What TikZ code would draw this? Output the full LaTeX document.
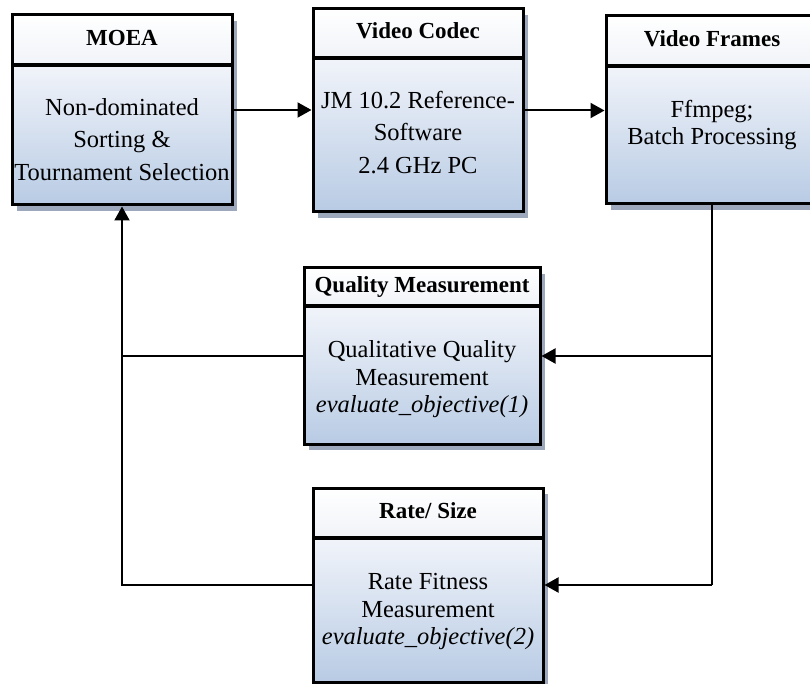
\documentclass[tikz,border=0pt]{standalone}
\usepackage{fontspec}
\setmainfont{Liberation Serif}
\usetikzlibrary{arrows.meta}

\definecolor{bodytop}{RGB}{241,244,250}
\definecolor{bodybot}{RGB}{184,203,228}
\definecolor{headbot}{RGB}{240,243,248}
\definecolor{shadowc}{RGB}{158,168,188}

\tikzset{
  boxframe/.style={draw=black, line width=3pt, inner sep=0pt},
  divider/.style={line width=3.5pt, black},
  bodyshade/.style={top color=bodytop, bottom color=bodybot},
  headshade/.style={top color=white, bottom color=headbot},
  boxshadow/.style={fill=shadowc},
  titletext/.style={font=\fontsize{23}{27}\selectfont\bfseries, inner sep=0pt,
                    text height=15pt, text depth=4pt},
  bodytext/.style={align=center, inner sep=0pt},
  wide/.style={font=\fontsize{24.5}{32.5}\selectfont},
  tight/.style={font=\fontsize{24.5}{27.5}\selectfont},
  conn/.style={line width=2pt, black},
  arr/.style={-{Triangle[length=14pt,width=15pt]}}
}

% #1 name, #2 left, #3 top, #4 right, #5 bottom, #6 header divider, #7 title
\newcommand\flowbox[7]{%
  \fill[boxshadow] ({#2+5},{#3+6}) rectangle ({#4+5},{#5+6});
  \shade[bodyshade] (#2,#6) rectangle (#4,#5);
  \shade[headshade] (#2,#3) rectangle (#4,#6);
  \draw[divider] (#2,#6) -- (#4,#6);
  \node[boxframe, minimum width={(#4-#2)*1pt}, minimum height={(#5-#3)*1pt}]
    (#1) at ({(#2+#4)/2},{(#3+#5)/2}) {};
  \node[titletext] (#1-title) at ({(#2+#4)/2},{(#3+#6)/2}) {#7};
}

\begin{document}
\begin{tikzpicture}[x=1pt,y=-1pt]
\useasboundingbox (0,0) rectangle (810,684);
\clip (0,0) rectangle (810,684);

% blocks
\flowbox{moea}{12}{15}{232}{205}{65}{MOEA}
\flowbox{codec}{313}{9}{523}{212}{58}{Video Codec}
\flowbox{frames}{606}{16}{818}{204}{66}{Video Frames}
\flowbox{qual}{304}{268}{540}{444}{306}{Quality Measurement}
\flowbox{rate}{313}{488}{543}{682}{538}{Rate/ Size}

% block contents
\node[bodytext, wide] (moea-body) at (122,139.3)
  {Non-dominated\\Sorting \&\\Tournament Selection};
\node[bodytext, wide] (codec-body) at (418,132.3)
  {JM 10.2 Reference-\\Software\\2.4 GHz PC};
\node[bodytext, tight] (frames-body) at (712,124.9)
  {Ffmpeg;\\Batch Processing};
\node[bodytext, tight] (qual-body) at (422,379.4)
  {Qualitative Quality\\Measurement\\\textit{evaluate\_objective(1)}};
\node[bodytext, tight] (rate-body) at (428,611.9)
  {Rate Fitness\\Measurement\\\textit{evaluate\_objective(2)}};

% flow
\draw[conn,arr] (moea.east) -- (codec.west |- moea.east);
\draw[conn,arr] (codec.east) -- (frames.west |- codec.east);
\coordinate (fturn) at (frames.south |- rate.east);
\coordinate (fsplit) at (frames.south |- qual.east);
\draw[conn] (frames.south) -- (fturn);
\draw[conn,arr] (fturn) -- (rate.east);
\draw[conn,arr] (fsplit) -- (qual.east);
\coordinate (qjoin) at (moea.south |- qual.west);
\draw[conn] (qual.west) -- (qjoin);
\draw[conn,arr] (rate.west) -| (moea.south);
\end{tikzpicture}
\end{document}
